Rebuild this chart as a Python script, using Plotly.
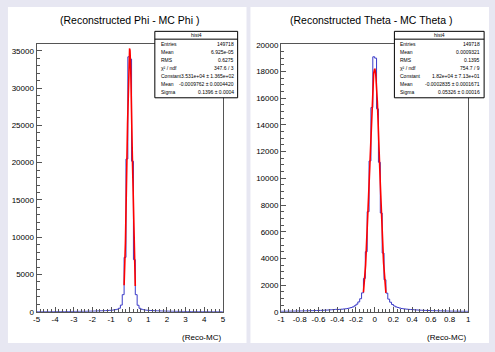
import numpy as np
import plotly.graph_objects as go

W, H = 495, 352

# ---------------- data ----------------
# Left: (Reconstructed Phi - MC Phi), 100 bins in [-5, 5]
phi_range = [-5.0, 5.0]
phi_counts = [
    20, 22, 18, 25, 24, 27, 23, 30, 28, 32,
    30, 35, 33, 38, 36, 42, 40, 45, 44, 50,
    52, 55, 60, 58, 65, 70, 68, 78, 85, 90,
    95, 105, 110, 120, 130, 140, 150, 165, 180, 200,
    220, 250, 290, 350, 480, 900, 2300, 7300, 20500, 34200,
    33900, 20200, 7000, 2300, 880, 470, 340, 280, 240, 210,
    190, 175, 160, 145, 135, 125, 115, 105, 100, 92,
    88, 80, 76, 70, 66, 60, 58, 54, 50, 48,
    45, 42, 40, 38, 36, 33, 34, 30, 28, 27,
    26, 24, 25, 22, 21, 20, 22, 18, 19, 17,
]
phi_fit = {"constant": 3.531e4, "mean": -0.0009762, "sigma": 0.1396, "lo": -0.3, "hi": 0.3}
phi_stats = [
    ("Entries", "149718"),
    ("Mean", "6.925e-05"),
    ("RMS", "0.6275"),
    ("χ² / ndf", "347.6 / 3"),
    ("Constant", "3.531e+04 ± 1.365e+02"),
    ("Mean", "-0.0009762 ± 0.0004420"),
    ("Sigma", "0.1396 ± 0.0004"),
]
phi_xticks = [-5, -4, -3, -2, -1, 0, 1, 2, 3, 4, 5]
phi_xticklabels = ["-5", "-4", "-3", "-2", "-1", "0", "1", "2", "3", "4", "5"]
phi_ymax = 35910

# Right: (Reconstructed Theta - MC Theta), 100 bins in [-1, 1]
theta_range = [-1.0, 1.0]
theta_counts = [
    40, 42, 45, 44, 48, 50, 52, 55, 58, 60,
    62, 65, 68, 72, 75, 80, 85, 90, 95, 100,
    105, 110, 118, 125, 130, 140, 150, 160, 170, 185,
    175, 185, 195, 210, 225, 250, 280, 320, 370, 450,
    570, 740, 980, 1420, 2500, 4500, 7500, 11300, 15300, 19100,
    19000, 15200, 11200, 7400, 4400, 2400, 1400, 950, 720, 550,
    440, 370, 320, 280, 250, 225, 210, 195, 180, 170,
    160, 150, 140, 130, 122, 115, 110, 104, 98, 92,
    88, 84, 80, 76, 72, 68, 64, 61, 58, 55,
    52, 50, 48, 46, 44, 42, 40, 39, 38, 36,
]
theta_fit = {"constant": 1.82e4, "mean": -0.0002835, "sigma": 0.05326, "lo": -0.12, "hi": 0.12}
theta_stats = [
    ("Entries", "149718"),
    ("Mean", "0.0009321"),
    ("RMS", "0.1395"),
    ("χ² / ndf", "754.7 / 9"),
    ("Constant", "1.82e+04 ± 7.13e+01"),
    ("Mean", "-0.0002835 ± 0.0001671"),
    ("Sigma", "0.05326 ± 0.00016"),
]
theta_xticks = [-1, -0.8, -0.6, -0.4, -0.2, 0, 0.2, 0.4, 0.6, 0.8, 1]
theta_xticklabels = ["-1", "-0.8", "-0.6", "-0.4", "-0.2", "0", "0.2", "0.4", "0.6", "0.8", "1"]
theta_ymax = 20055

titles = ["(Reconstructed Phi - MC Phi )", "(Reconstructed Theta - MC Theta )"]
xlabel = "(Reco-MC)"
box_name = "hist4"

# ---------------- helpers ----------------
def fx(px):
    return px / W

def fy(py):
    return 1 - py / H

FONT = "Liberation Sans, Arial, Helvetica, sans-serif"
AXC = "#555555"
BLUE = "#3a3ac8"
RED = "#ff0000"
BG = "#e7e7f2"

def step_xy(counts, rng):
    n = len(counts)
    edges = np.linspace(rng[0], rng[1], n + 1)
    xs = list(edges)
    ys = list(counts) + [counts[-1]]
    return xs, ys

def fit_xy(p):
    x = np.linspace(p["lo"], p["hi"], 300)
    y = p["constant"] * np.exp(-0.5 * ((x - p["mean"]) / p["sigma"]) ** 2)
    return x, y

fig = go.Figure()

panels = [
    dict(counts=phi_counts, rng=phi_range, fit=phi_fit, xa="x", ya="y"),
    dict(counts=theta_counts, rng=theta_range, fit=theta_fit, xa="x2", ya="y2"),
]
for p in panels:
    xs, ys = step_xy(p["counts"], p["rng"])
    fig.add_trace(go.Scatter(x=xs, y=ys, mode="lines", line=dict(color=BLUE, width=1, shape="hv"),
                             xaxis=p["xa"], yaxis=p["ya"], showlegend=False, hoverinfo="skip"))
    fx_, fy_ = fit_xy(p["fit"])
    fig.add_trace(go.Scatter(x=fx_, y=fy_, mode="lines", line=dict(color=RED, width=1.6),
                             xaxis=p["xa"], yaxis=p["ya"], showlegend=False, hoverinfo="skip"))

# frames (pixels)
L = dict(x0=33, x1=222)
R = dict(x0=281, x1=471)
TOP, BOT = 42, 316

def xaxis_cfg(dom, rng, tv, tt, minor_dt):
    return dict(domain=[fx(dom["x0"]), fx(dom["x1"])], range=rng, tickvals=tv, ticktext=tt,
                ticks="inside", ticklen=5, tickcolor=AXC, tickwidth=1,
                showline=True, linecolor=AXC, linewidth=1, mirror=True,
                showgrid=False, zeroline=False, fixedrange=True,
                tickfont=dict(family=FONT, size=8, color="#000"),
                minor=dict(dtick=minor_dt, tick0=rng[0], ticks="inside", ticklen=3, tickcolor=AXC, showgrid=False))

def yaxis_cfg(ymax, dt, minor_dt, anchor):
    return dict(domain=[fy(BOT), fy(TOP)], range=[0, ymax], dtick=dt, tick0=0, tickformat="d",
                ticks="inside", ticklen=5, tickcolor=AXC, tickwidth=1,
                showline=True, linecolor=AXC, linewidth=1, mirror=True,
                showgrid=False, zeroline=False, fixedrange=True, anchor=anchor,
                tickfont=dict(family=FONT, size=8, color="#000"),
                minor=dict(dtick=minor_dt, tick0=0, ticks="inside", ticklen=3, tickcolor=AXC, showgrid=False))

shapes = []
annotations = []
# white pads
for x0, x1 in [(4, 246), (250, 492)]:
    shapes.append(dict(type="rect", xref="paper", yref="paper", x0=fx(x0), x1=fx(x1), y0=fy(348), y1=fy(4),
                       fillcolor="white", line=dict(width=0), layer="below"))

# titles and x labels
for title, cx, right in [(titles[0], 127, 222), (titles[1], 372, 471)]:
    annotations.append(dict(text=title, x=fx(cx), y=fy(17), xref="paper", yref="paper",
                            showarrow=False, xanchor="center", yanchor="middle",
                            font=dict(family=FONT, size=10.5, color="#000")))
    annotations.append(dict(text=xlabel, x=fx(right), y=fy(342), xref="paper", yref="paper",
                            showarrow=False, xanchor="right", yanchor="middle",
                            font=dict(family=FONT, size=8, color="#000")))

# stat boxes
for stats, bx0, bx1 in [(phi_stats, 153, 237), (theta_stats, 396, 487)]:
    by0, by1 = 29, 97
    shapes.append(dict(type="rect", xref="paper", yref="paper", x0=fx(bx0), x1=fx(bx1), y0=fy(by1), y1=fy(by0),
                       fillcolor="white", line=dict(color="#000", width=1), layer="above"))
    shapes.append(dict(type="line", xref="paper", yref="paper", x0=fx(bx0), x1=fx(bx1), y0=fy(37), y1=fy(37),
                       line=dict(color="#000", width=1), layer="above"))
    annotations.append(dict(text=box_name, x=fx((bx0 + bx1) / 2), y=fy(33), xref="paper", yref="paper",
                            showarrow=False, xanchor="center", yanchor="middle",
                            font=dict(family=FONT, size=5, color="#000")))
    for i, (lab, val) in enumerate(stats):
        yy = 41.5 + i * 8.25
        annotations.append(dict(text=lab, x=fx(bx0 + 4), y=fy(yy), xref="paper", yref="paper",
                                showarrow=False, xanchor="left", yanchor="middle",
                                font=dict(family=FONT, size=5, color="#000")))
        annotations.append(dict(text=val, x=fx(bx1 - 2), y=fy(yy), xref="paper", yref="paper",
                                showarrow=False, xanchor="right", yanchor="middle",
                                font=dict(family=FONT, size=5, color="#000")))

fig.update_layout(
    width=W, height=H, margin=dict(l=0, r=0, t=0, b=0),
    paper_bgcolor=BG, plot_bgcolor="white",
    xaxis=xaxis_cfg(L, phi_range, phi_xticks, phi_xticklabels, 0.2) | dict(anchor="y"),
    yaxis=yaxis_cfg(phi_ymax, 5000, 1000, "x"),
    xaxis2=xaxis_cfg(R, theta_range, theta_xticks, theta_xticklabels, 0.04) | dict(anchor="y2"),
    yaxis2=yaxis_cfg(theta_ymax, 2000, 500, "x2"),
    shapes=shapes, annotations=annotations,
)

fig.write_html(
    "out.html",
    config={"displayModeBar": False, "staticPlot": True},
    post_script="document.body.style.margin='0';document.body.style.overflow='hidden';"
                "document.body.style.background='" + BG + "';",
)
